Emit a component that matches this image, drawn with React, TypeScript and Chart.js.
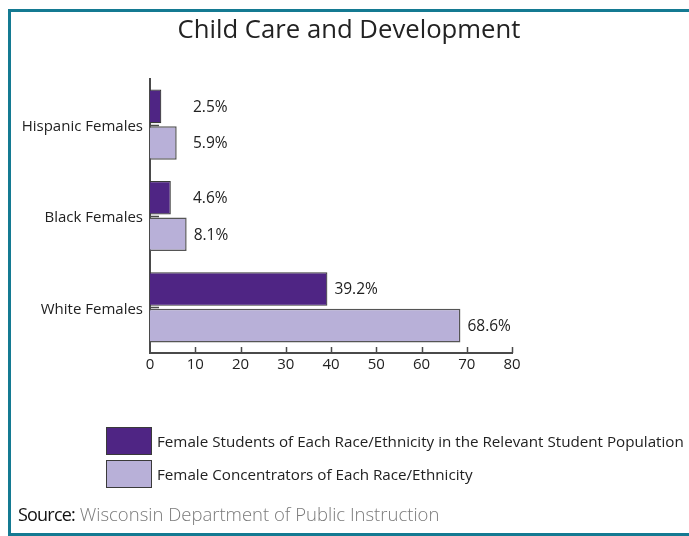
import React, { useEffect, useRef } from "react";
import { Chart, registerables } from "chart.js";

Chart.register(...registerables);

const categories = ["Hispanic Females", "Black Females", "White Females"];
const studentShare = [2.5, 4.6, 39.2];
const concentratorShare = [5.9, 8.1, 68.6];
const seriesNames = [
  "Female Students of Each Race/Ethnicity in the Relevant Student Population",
  "Female Concentrators of Each Race/Ethnicity",
];
const xTicks = [0, 10, 20, 30, 40, 50, 60, 70, 80];

const PURPLE = "#4f2584";
const LAVENDER = "#b8b0d8";
const AXIS = "#4a4a4a";
const FRAME = "#147a92";
const FONT = "'Open Sans', 'Noto Sans', sans-serif";

// Short inward ticks on the value axis, category marks on the y axis, and value labels
const decorations = {
  id: "decorations",
  afterDatasetsDraw(chart: any) {
    const { ctx, chartArea, scales } = chart;
    const xs = scales.x;
    const ys = scales.y;
    ctx.save();
    ctx.strokeStyle = AXIS;
    ctx.lineWidth = 1.5;
    xTicks.forEach((v) => {
      if (v === 0) return;
      const px = Math.round(xs.getPixelForValue(v)) + 0.5;
      ctx.beginPath();
      ctx.moveTo(px, chartArea.bottom);
      ctx.lineTo(px, chartArea.bottom - 6);
      ctx.stroke();
    });
    categories.forEach((_, i) => {
      const py = Math.round(ys.getPixelForValue(i)) + 0.5;
      ctx.beginPath();
      ctx.moveTo(chartArea.left, py);
      ctx.lineTo(chartArea.left + 9, py);
      ctx.stroke();
    });
    ctx.fillStyle = "#222";
    ctx.font = `15.5px ${FONT}`;
    ctx.textAlign = "left";
    ctx.textBaseline = "middle";
    const minX = xs.getPixelForValue(9.5);
    chart.data.datasets.forEach((ds: any, di: number) => {
      const meta = chart.getDatasetMeta(di);
      meta.data.forEach((bar: any, i: number) => {
        const x = Math.max(bar.x + 7, minX);
        ctx.fillText(`${ds.data[i]}%`, x, bar.y + 1);
      });
    });
    ctx.restore();
  },
};

export default function App() {
  const canvasRef = useRef<HTMLCanvasElement | null>(null);

  useEffect(() => {
    if (!canvasRef.current) return;
    const chart = new Chart(canvasRef.current, {
      type: "bar",
      data: {
        labels: categories,
        datasets: [
          {
            label: seriesNames[0],
            data: studentShare,
            backgroundColor: PURPLE,
            borderColor: "#3a3a3a",
            borderWidth: 1.2,
            categoryPercentage: 0.8,
            barPercentage: 0.92,
          },
          {
            label: seriesNames[1],
            data: concentratorShare,
            backgroundColor: LAVENDER,
            borderColor: "#555",
            borderWidth: 1.5,
            categoryPercentage: 0.8,
            barPercentage: 0.92,
          },
        ],
      },
      options: {
        indexAxis: "y",
        animation: false,
        responsive: false,
        devicePixelRatio: 1,
        layout: { padding: { top: 79, right: 177, bottom: 153, left: 0 } },
        plugins: {
          legend: { display: false },
          title: { display: false },
          tooltip: { enabled: false },
        },
        scales: {
          x: {
            min: 0,
            max: 80,
            ticks: {
              stepSize: 10,
              color: "#222",
              padding: 3,
              font: { family: FONT, size: 15 },
            },
            grid: { display: false, drawTicks: false },
            border: { display: true, color: AXIS, width: 2 },
            afterFit(scale: any) {
              scale.height = 30;
            },
          },
          y: {
            ticks: {
              color: "#222",
              padding: 7,
              labelOffset: 2,
              font: { family: FONT, size: 15 },
            },
            grid: { display: false, drawTicks: false },
            border: { display: true, color: AXIS, width: 2 },
            afterFit(scale: any) {
              scale.width = 150;
            },
          },
        },
      },
      plugins: [decorations],
    });
    return () => chart.destroy();
  }, []);

  const legendColors = [PURPLE, LAVENDER];

  return (
    <div
      style={{
        position: "absolute",
        left: 0,
        top: 0,
        width: 689,
        height: 536,
        overflow: "hidden",
        background: "#fff",
        fontFamily: FONT,
      }}
    >
      <div
        style={{
          position: "absolute",
          left: 8,
          top: 9,
          width: 720,
          height: 521,
          border: `3px solid ${FRAME}`,
        }}
      />
      <canvas
        ref={canvasRef}
        width={689}
        height={536}
        style={{ position: "absolute", left: 0, top: 0, width: 689, height: 536 }}
      />
      <div
        style={{
          position: "absolute",
          left: 0,
          width: 698,
          top: 12,
          textAlign: "center",
          fontSize: 25.7,
          color: "#222",
          lineHeight: "34px",
        }}
      >
        Child Care and Development
      </div>
      {seriesNames.map((name, i) => (
        <div
          key={name}
          style={{
            position: "absolute",
            left: 106,
            top: 427 + i * 33,
            height: 28,
            display: "flex",
            alignItems: "center",
            whiteSpace: "nowrap",
          }}
        >
          <div
            style={{
              width: 44,
              height: 26,
              background: legendColors[i],
              border: "1px solid #3a3a3a",
              marginRight: 5,
            }}
          />
          <span style={{ fontSize: 15.2, color: "#222" }}>{name}</span>
        </div>
      ))}
      <div
        style={{
          position: "absolute",
          left: 18,
          top: 501,
          whiteSpace: "nowrap",
          fontSize: 18.5,
          lineHeight: "26px",
        }}
      >
        <span style={{ color: "#111", letterSpacing: -0.8, fontSize: 18 }}>Source:</span>{" "}
        <span style={{ color: "#7a7a7a", fontWeight: 300 }}>
          Wisconsin Department of Public Instruction
        </span>
      </div>
    </div>
  );
}
